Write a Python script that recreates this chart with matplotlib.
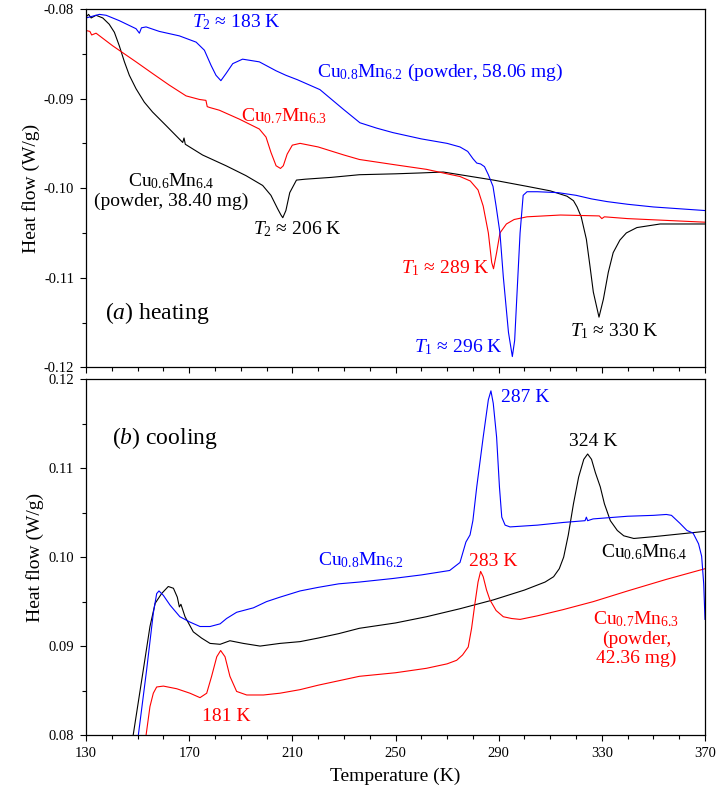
import numpy as np
from matplotlib import pyplot as plt
from matplotlib.ticker import FormatStrFormatter, MultipleLocator

plt.rcParams['font.family'] = ['Liberation Serif', 'DejaVu Serif']
plt.rcParams['mathtext.fontset'] = 'custom'
plt.rcParams['mathtext.rm'] = 'Liberation Serif'
plt.rcParams['mathtext.it'] = 'Liberation Serif:italic'
plt.rcParams['mathtext.bf'] = 'Liberation Serif:bold'
plt.rcParams['axes.unicode_minus'] = False

# %%
# (a) heating curves

t_h_08 = [130, 135.2, 137.8, 142.9, 149.4, 150.7, 151.5, 153.3, 158.4, 166.2,
          172.7, 175.9, 178.5, 180.4, 182.3, 184.3, 186.9, 190.7, 197.2,
          203.7, 207.5, 212, 220.7, 229.8, 236.2, 242.7, 249, 260, 270, 275,
          278, 280, 281.5, 283, 284.5, 286, 287.8, 289, 290.5, 291.8, 293.8,
          295.3, 296.2, 297, 298.3, 299.5, 301, 305, 313, 320, 326, 332, 340,
          350, 360, 370]
q_h_08 = [-0.0810, -0.0806, -0.0807, -0.0813, -0.0822, -0.0827, -0.0821,
          -0.0820, -0.0825, -0.0830, -0.0837, -0.0846, -0.0863, -0.0874,
          -0.0880, -0.0872, -0.0861, -0.0856, -0.0859, -0.0869, -0.0874,
          -0.0879, -0.0890, -0.0912, -0.0927, -0.0933, -0.0938, -0.0945,
          -0.0950, -0.0954, -0.0959, -0.0967, -0.0972, -0.0973, -0.0976,
          -0.0985, -0.0998, -0.1020, -0.1050, -0.1099, -0.1161, -0.1188,
          -0.1170, -0.1124, -0.1050, -0.1008, -0.1004, -0.1004, -0.1005,
          -0.1008, -0.1012, -0.1015, -0.1018, -0.1021, -0.1023, -0.1025]

t_h_07 = [130, 131.5, 132.2, 133.9, 140.3, 149.4, 155.8, 162.3, 168.8, 174,
          176.5, 177, 178, 181.7, 189.5, 197.2, 199.8, 201.7, 203.7, 205.4,
          206.5, 208, 210, 213, 220, 230, 236, 250, 262, 270, 275, 279, 282,
          284, 285, 286, 287.3, 288, 289.2, 290.5, 293, 296, 301, 314, 329,
          330, 331, 340, 355, 370]
q_h_07 = [-0.0824, -0.0825, -0.0829, -0.0827, -0.0841, -0.0859, -0.0872,
          -0.0885, -0.0897, -0.0901, -0.0902, -0.0909, -0.0910, -0.0913,
          -0.0923, -0.0934, -0.0943, -0.0960, -0.0975, -0.0978, -0.0975,
          -0.0962, -0.0952, -0.0950, -0.0954, -0.0963, -0.0968, -0.0974,
          -0.0979, -0.0984, -0.0987, -0.0992, -0.1002, -0.1020, -0.1035,
          -0.1050, -0.1083, -0.1090, -0.1072, -0.1050, -0.1040, -0.1035,
          -0.1032, -0.1030, -0.1031, -0.1034, -0.1032, -0.1034, -0.1036,
          -0.1038]

t_h_06 = [130, 131, 132, 133.9, 136.5, 139, 141, 142.9, 144.9, 146.8, 149.4,
          152.6, 155.8, 161, 167.5, 168, 168.5, 175.2, 184.3, 192, 198.5,
          201.7, 204.3, 205.6, 206.3, 207.5, 209, 211.6, 215, 225, 236, 250,
          260, 268.5, 275, 288, 301, 310, 316.5, 319, 320.4, 322, 324, 325.4,
          326.7, 328.9, 330.6, 332.5, 334.4, 337, 339.5, 343.6, 352.6, 370]
q_h_06 = [-0.0809, -0.0806, -0.0810, -0.0807, -0.0810, -0.0817, -0.0826,
          -0.0841, -0.0859, -0.0874, -0.0889, -0.0904, -0.0915, -0.0930,
          -0.0949, -0.0944, -0.0951, -0.0963, -0.0975, -0.0986, -0.0997,
          -0.1008, -0.1023, -0.1030, -0.1033, -0.1025, -0.1005, -0.0991,
          -0.0990, -0.0988, -0.0985, -0.0984, -0.0983, -0.0982, -0.0985,
          -0.0991, -0.0998, -0.1003, -0.1009, -0.1014, -0.1021, -0.1032,
          -0.1057, -0.1087, -0.1116, -0.1144, -0.1124, -0.1094, -0.1072,
          -0.1058, -0.1050, -0.1044, -0.1040, -0.1040]

# %%
# (b) cooling curves

t_c_08 = [150.3, 153.5, 156.1, 157.4, 158.3, 160, 162.6, 166.4, 170.3,
          174.2, 178.1, 182, 184.5, 188.4, 194.9, 200, 205.2, 213, 220, 228,
          236, 249, 260, 271, 275, 277.3, 278.9, 280, 281.5, 284, 286, 287,
          287.9, 289.2, 290.3, 291.2, 292.5, 294.4, 305, 315, 323.5, 324,
          324.5, 326.6, 340, 350, 355, 357, 360.3, 363, 365.4, 367.5, 368.7,
          369.5, 370]
q_c_08 = [0.0800, 0.0873, 0.0937, 0.0959, 0.0962, 0.0957, 0.0946, 0.0933,
          0.0927, 0.0922, 0.0922, 0.0925, 0.0931, 0.0938, 0.0943, 0.0950,
          0.0955, 0.0962, 0.0966, 0.0970, 0.0972, 0.0976, 0.0980, 0.0985,
          0.0994, 0.1017, 0.1025, 0.1041, 0.1079, 0.1135, 0.1177, 0.1187,
          0.1173, 0.1135, 0.1079, 0.1045, 0.1036, 0.1034, 0.1036, 0.1039,
          0.1041, 0.1045, 0.1041, 0.1043, 0.1046, 0.1047, 0.1048, 0.1047,
          0.1038, 0.1030, 0.1027, 0.1015, 0.1001, 0.0970, 0.0930]

t_c_06 = [148.3, 152.2, 154.8, 156.8, 159.3, 161.9, 163.9, 165.4, 166.2,
          166.8, 168.4, 171.6, 174.8, 178.1, 182, 185.8, 191, 197.5, 205.2,
          213, 220, 228, 236, 250, 262, 275, 288, 300, 308, 311.3, 313.5,
          315.2, 317, 319, 321, 323, 324.5, 326, 327.5, 329.4, 331, 333.3,
          336, 338.5, 342.4, 350, 360, 370]
q_c_06 = [0.0800, 0.0873, 0.0922, 0.0948, 0.0959, 0.0967, 0.0965, 0.0955,
          0.0944, 0.0947, 0.0933, 0.0916, 0.0909, 0.0903, 0.0902, 0.0906,
          0.0903, 0.0900, 0.0903, 0.0905, 0.0909, 0.0914, 0.0920, 0.0926,
          0.0933, 0.0942, 0.0952, 0.0963, 0.0972, 0.0978, 0.0987, 0.1000,
          0.1025, 0.1060, 0.1090, 0.1110, 0.1116, 0.1110, 0.1095, 0.1079,
          0.1060, 0.1041, 0.1030, 0.1024, 0.1021, 0.1023, 0.1026, 0.1029]

t_c_07 = [153.3, 154.8, 156.1, 157.4, 160, 165.2, 170.3, 174.2, 176.8, 178.7,
          180.7, 182.2, 183.9, 185.8, 188.4, 192.3, 198.8, 205.2, 213, 220,
          228, 236, 250, 262, 270, 273.7, 276, 278.2, 279.5, 280.8, 282, 283,
          284, 285.3, 286.6, 289, 291.8, 295, 298.3, 305, 315, 326.7, 340,
          355, 370]
q_c_07 = [0.0800, 0.0832, 0.0847, 0.0854, 0.0855, 0.0852, 0.0847, 0.0842,
          0.0847, 0.0866, 0.0888, 0.0895, 0.0888, 0.0866, 0.0849, 0.0845,
          0.0845, 0.0847, 0.0851, 0.0856, 0.0861, 0.0866, 0.0870, 0.0875,
          0.0880, 0.0884, 0.0890, 0.0899, 0.0920, 0.0948, 0.0972, 0.0984,
          0.0978, 0.0963, 0.0952, 0.0940, 0.0933, 0.0931, 0.0930, 0.0934,
          0.0941, 0.0950, 0.0962, 0.0975, 0.0987]

# %%

W, H = 717, 798
fig = plt.figure(figsize=(W/100, H/100), dpi=100)

x0, x1 = 86, 705
ax1 = fig.add_axes([x0/W, 1-367.3/H, (x1-x0)/W, (367.3-9)/H])
ax2 = fig.add_axes([x0/W, 1-735/H, (x1-x0)/W, (735-379.3)/H])

lw = 0.8
ax1.plot(t_h_06, q_h_06, color='black', lw=lw)
ax1.plot(t_h_07, q_h_07, color='red', lw=lw)
ax1.plot(t_h_08, q_h_08, color='blue', lw=lw)

ax2.plot(t_c_06, q_c_06, color='black', lw=lw)
ax2.plot(t_c_07, q_c_07, color='red', lw=lw)
ax2.plot(t_c_08, q_c_08, color='blue', lw=lw)

for ax in (ax1, ax2):
    ax.set_xlim(130, 370)
    ax.set_xticks(np.arange(130, 371, 40))
    ax.set_xticks(np.arange(130, 371, 10), minor=True)
    ax.yaxis.set_major_locator(MultipleLocator(0.01))
    ax.yaxis.set_minor_locator(MultipleLocator(0.005))
    ax.yaxis.set_major_formatter(FormatStrFormatter('%.2f'))
    ax.tick_params(which='both', direction='out', top=False, right=False,
                   labelsize=10.5, width=0.8)
    ax.tick_params(which='major', length=4.5, pad=4)
    ax.tick_params(which='minor', length=3)
    for s in ax.spines.values():
        s.set_linewidth(0.9)
    ax.set_ylabel('Heat flow (W/g)', fontsize=14, labelpad=3)

ax1.set_ylim(-0.12, -0.08)
ax1.tick_params(axis='x', labelbottom=False)
ax2.set_ylim(0.08, 0.12)
ax2.set_xlabel('Temperature (K)', fontsize=14, labelpad=6)

fs = 14
ax1.text(188.2, -0.08145, r'$\mathit{T}_{2}$ ≈ 183 K', color='blue',
         fontsize=fs, ha='center', va='center')
ax1.text(267.3, -0.0871, r'Cu$_{0.8}$Mn$_{6.2}$ (powder, 58.06 mg)',
         color='blue', fontsize=fs, ha='center', va='center')
ax1.text(206.8, -0.0920, r'Cu$_{0.7}$Mn$_{6.3}$', color='red',
         fontsize=fs, ha='center', va='center')
ax1.text(163.2, -0.1003, 'Cu$_{0.6}$Mn$_{6.4}$\n(powder, 38.40 mg)',
         color='black', fontsize=fs, ha='center', va='center',
         multialignment='center', linespacing=1.15)
ax1.text(212, -0.1046, r'$\mathit{T}_{2}$ ≈ 206 K', color='black',
         fontsize=fs, ha='center', va='center')
ax1.text(269.2, -0.1089, r'$\mathit{T}_{1}$ ≈ 289 K', color='red',
         fontsize=fs, ha='center', va='center')
ax1.text(274.2, -0.1177, r'$\mathit{T}_{1}$ ≈ 296 K', color='blue',
         fontsize=fs, ha='center', va='center')
ax1.text(335, -0.1160, r'$\mathit{T}_{1}$ ≈ 330 K', color='black',
         fontsize=fs, ha='center', va='center')
ax1.text(157.7, -0.1139, r'($\mathit{a}$) heating', color='black',
         fontsize=17, ha='center', va='center')

ax2.text(160.6, 0.1134, r'($\mathit{b}$) cooling', color='black',
         fontsize=17, ha='center', va='center')
ax2.text(236.6, 0.0997, r'Cu$_{0.8}$Mn$_{6.2}$', color='blue',
         fontsize=fs, ha='center', va='center')
ax2.text(300.4, 0.1180, '287 K', color='blue',
         fontsize=fs, ha='center', va='center')
ax2.text(326.8, 0.1130, '324 K', color='black',
         fontsize=fs, ha='center', va='center')
ax2.text(346.6, 0.1006, r'Cu$_{0.6}$Mn$_{6.4}$', color='black',
         fontsize=fs, ha='center', va='center')
ax2.text(288, 0.0995, '283 K', color='red',
         fontsize=fs, ha='center', va='center')
ax2.text(343.4, 0.0909, 'Cu$_{0.7}$Mn$_{6.3}$\n(powder,\n42.36 mg)',
         color='red', fontsize=fs, ha='center', va='center',
         multialignment='center', linespacing=1.15)
ax2.text(184.4, 0.0821, '181 K', color='red',
         fontsize=fs, ha='center', va='center')

fig.savefig('out.png', dpi=100)
